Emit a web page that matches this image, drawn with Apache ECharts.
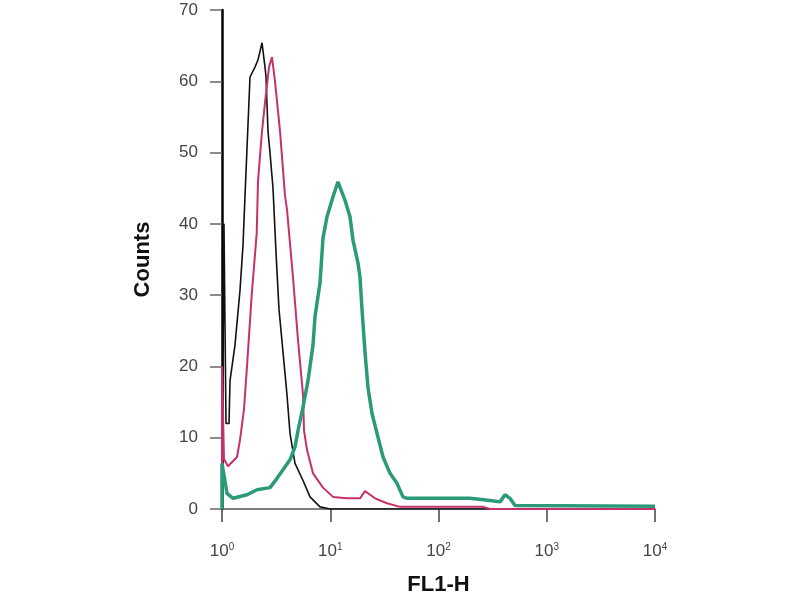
<!DOCTYPE html>
<html><head><meta charset="utf-8">
<script src="https://cdn.jsdelivr.net/npm/echarts@6/dist/echarts.min.js"></script>
<style>html,body{margin:0;padding:0;background:#fff}#c{width:800px;height:600px}</style>
</head><body><div id="c"></div>
<script>
// FL1-H values (x) and counts (y) for each histogram
const blackX = [1, 1.043, 1.089, 1.161, 1.186, 1.318, 1.467, 1.563, 1.632, 1.739, 1.814, 2.018, 2.151, 2.342, 2.496, 2.550, 2.660, 2.776, 2.959, 3.154, 3.362, 3.661, 3.985, 4.248, 4.726, 5.603, 6.502, 8.040, 9.947, 10000];
const blackY = [0, 40, 12, 12, 18, 23, 30.7, 37, 44, 54, 60.6, 62, 63, 65.4, 62, 60.6, 53, 50, 45, 36, 28, 22, 16, 10.6, 6.4, 4, 1.7, 0.3, 0, 0];

const magX = [1, 1.0, 1.043, 1.136, 1.376, 1.467, 1.597, 1.702, 1.881, 2.093, 2.151, 2.342, 2.496, 2.718, 2.897, 3.088, 3.435, 3.819, 3.985, 4.528, 5.037, 5.603, 5.723, 6.100, 6.929, 8.570, 10.60, 14.28, 18.83, 20.94, 25.91, 33.44, 44.09, 257.7, 299.1, 10000];
const magY = [0, 20, 7, 6, 7.3, 9.7, 14, 20, 30, 38.7, 46, 53, 57, 62, 63.4, 60, 53, 44, 42, 32.5, 23.7, 16, 11, 8.3, 5, 3, 1.7, 1.5, 1.5, 2.5, 1.5, 0.8, 0.3, 0.3, 0, 0];

const grnX = [1, 1.0, 1.112, 1.264, 1.702, 2.106, 2.776, 3.223, 3.661, 4.248, 4.726, 5.037, 5.603, 6.231, 6.929, 7.230, 8.040, 8.570, 9.333, 10.60, 11.79, 13.69, 15.22, 16.23, 18.05, 18.83, 19.65, 20.94, 22.33, 24.31, 27.04, 30.72, 35.65, 41.37, 46.99, 51.17, 195.4, 299.1, 370.0, 411.6, 457.6, 508.9, 10000];
const grnY = [0, 6.4, 2.2, 1.5, 2, 2.7, 3, 4.3, 5.5, 6.9, 8.7, 11, 14.3, 18, 23, 27, 31.7, 38, 41, 43.8, 45.9, 43.3, 41, 37.7, 34.5, 32.5, 28, 22, 17, 13.4, 10.6, 7.3, 5, 3.6, 1.7, 1.5, 1.5, 1.2, 1, 2, 1.5, 0.5, 0.4];

const xTicks = ['0', '1', '2', '3', '4'];
const yTicks = [0, 10, 20, 30, 40, 50, 60, 70];

const zip = (xs, ys) => xs.map((x, i) => [x, ys[i]]);
const chart = echarts.init(document.getElementById('c'), null, {renderer: 'canvas'});
const font = 'Liberation Sans, Arial, sans-serif';
chart.setOption({
  animation: false,
  backgroundColor: '#ffffff',
  grid: {left: 222, right: 145, top: 10, bottom: 91, containLabel: false, outerBoundsMode: 'none'},
  xAxis: {
    type: 'log', logBase: 10, min: 1, max: 10000,
    name: 'FL1-H', nameLocation: 'middle', nameGap: 65,
    nameTextStyle: {fontFamily: font, fontWeight: 'bold', fontSize: 22, color: '#111'},
    axisLine: {lineStyle: {color: '#555', width: 1.5}},
    axisTick: {show: true, length: 13, lineStyle: {color: '#444', width: 1.5}},
    splitLine: {show: false},
    minorTick: {show: false},
    axisLabel: {
      margin: 33,
      formatter: function (v) {
        const e = Math.round(Math.log10(v));
        return '{b|10}{s|' + xTicks[e] + '}';
      },
      rich: {
        b: {fontFamily: font, fontSize: 17, color: '#444'},
        s: {fontFamily: font, fontSize: 10, color: '#444', padding: [0, 0, 9, 0]}
      }
    }
  },
  yAxis: {
    type: 'value', min: 0, max: 70, interval: 10,
    name: 'Counts', nameLocation: 'middle', nameGap: 68,
    nameTextStyle: {fontFamily: font, fontWeight: 'bold', fontSize: 22, color: '#111'},
    axisLine: {show: true, lineStyle: {color: '#000', width: 2.5}},
    axisTick: {show: true, length: 12, lineStyle: {color: '#666', width: 1.5}},
    splitLine: {show: false},
    axisLabel: {
      margin: 24, fontFamily: font, fontSize: 17, color: '#444',
      formatter: function (v) { return yTicks.indexOf(v) >= 0 ? String(v) : ''; }
    }
  },
  series: [
    {type: 'line', data: zip(blackX, blackY), showSymbol: false, lineStyle: {color: '#111', width: 1.6}, z: 2},
    {type: 'line', data: zip(magX, magY), showSymbol: false, lineStyle: {color: '#c8306c', width: 2}, z: 3},
    {type: 'line', data: zip(grnX, grnY), showSymbol: false, lineStyle: {color: '#2a9a7a', width: 3.5}, z: 4}
  ]
});
</script></body></html>
